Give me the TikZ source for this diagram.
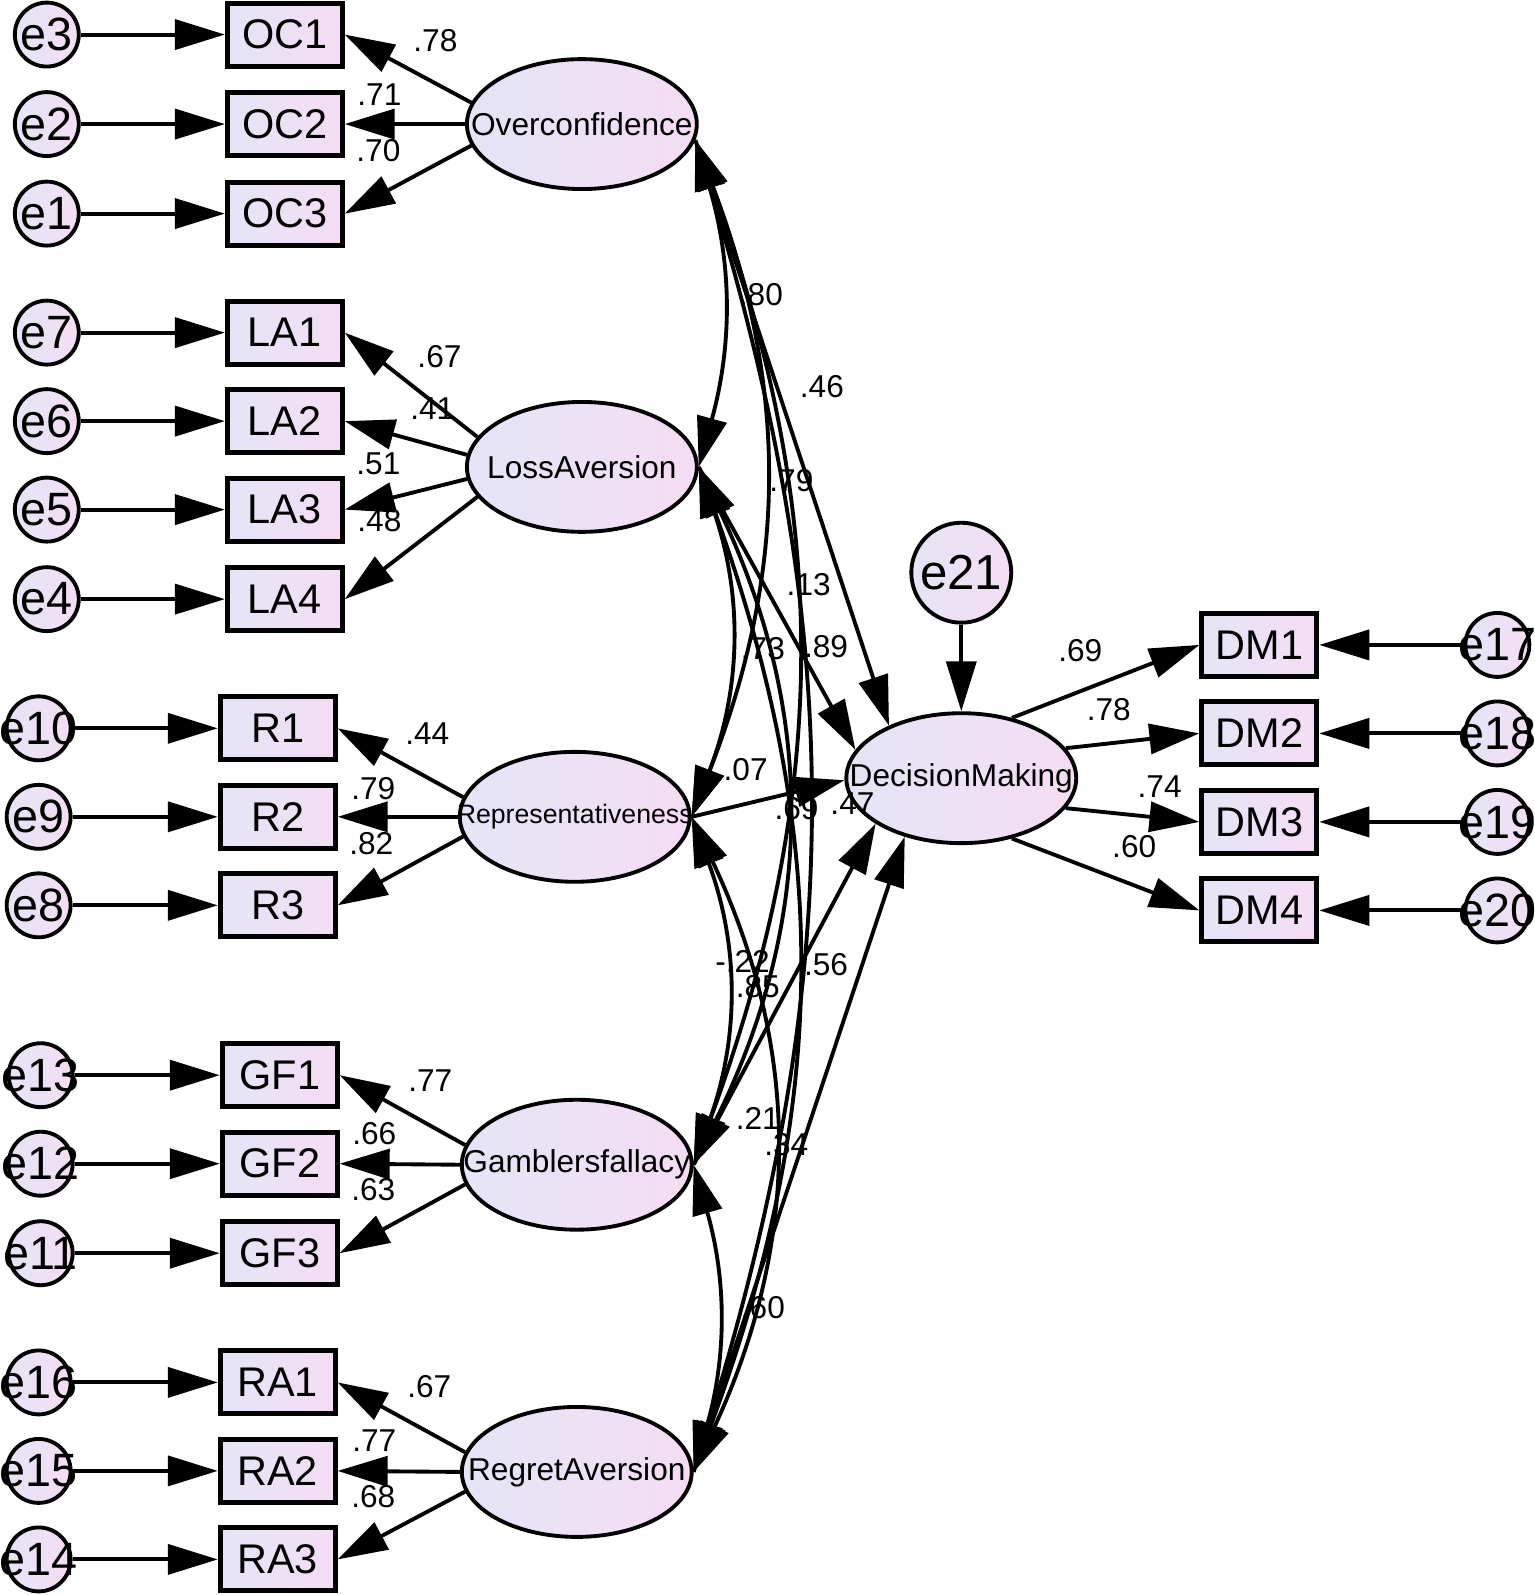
\documentclass[tikz,border=0pt]{standalone}
\usepackage{fontspec}
\setmainfont{Liberation Sans}
\usetikzlibrary{arrows.meta,shapes.geometric}
\definecolor{amosblue}{RGB}{228,229,246}
\definecolor{amospink}{RGB}{245,221,244}

\begin{document}
\begin{tikzpicture}[x=0.01017cm, y=-0.01017cm,
    >={Triangle[length=5mm,width=3mm]},
    obs/.style={draw, line width=1.4pt, rectangle, minimum width=1.15cm, minimum height=0.63cm,
      inner sep=0pt, left color=amosblue, right color=amospink, font=\fontsize{11.8}{12}\selectfont},
    err/.style={draw, line width=1.1pt, circle, minimum size=0.64cm, inner sep=-5pt,
      left color=amosblue, right color=amospink, font=\fontsize{13.3}{14}\selectfont},
    lat/.style={draw, line width=1.1pt, ellipse, minimum width=2.3cm, minimum height=1.3cm,
      inner xsep=-40pt, inner ysep=-15pt, left color=amosblue, right color=amospink,
      font=\fontsize{9}{10}\selectfont},
    reg/.style={->, line width=1.1pt},
    cov/.style={<->, line width=1.1pt},
    wt/.style={font=\fontsize{9}{10}\selectfont, inner sep=0pt}]
  \useasboundingbox (0,0) rectangle (1509,1568);

  % latent variables
  \node[lat] (oc) at (572,122) {Overconfidence};
  \node[lat] (la) at (572,459) {LossAversion};
  \node[lat, font=\fontsize{7.6}{8}\selectfont] (rep) at (565,803) {Representativeness};
  \node[lat] (gf) at (567,1145) {Gamblersfallacy};
  \node[lat] (ra) at (567,1447) {RegretAversion};
  \node[lat] (dm) at (945,765) {DecisionMaking};
  \node[err, minimum size=1cm, font=\fontsize{14}{15}\selectfont] (e21) at (945,563) {e21};

  % indicators and their errors
  \foreach \i/\y/\k/\a in {1/34/3/169, 2/122/2/180, 3/210/1/191} {
    \node[obs] (oc\i) at (280,\y) {OC\i};
    \node[err] (e\k) at (46,\y) {e\k};
    \draw[reg] (e\k) -- (oc\i);
    \draw[reg] (oc.\a) -- (oc\i.east);
  }
  \foreach \i/\y/\k/\a in {1/327/7/164, 2/414/6/174, 3/501/5/186, 4/589/4/196} {
    \node[obs] (la\i) at (280,\y) {LA\i};
    \node[err] (e\k) at (46,\y) {e\k};
    \draw[reg] (e\k) -- (la\i);
    \draw[reg] (la.\a) -- (la\i.east);
  }
  \foreach \i/\y/\k/\a in {1/716/10/170, 2/803/9/180, 3/890/8/190} {
    \node[obs] (r\i) at (273,\y) {R\i};
    \node[err] (e\k) at (38,\y) {e\k};
    \draw[reg] (e\k) -- (r\i);
    \draw[reg] (rep.\a) -- (r\i.east);
  }
  \foreach \i/\y/\k/\a in {1/1057/13/170, 2/1144/12/180, 3/1232/11/190} {
    \node[obs] (gf\i) at (275,\y) {GF\i};
    \node[err] (e\k) at (40,\y) {e\k};
    \draw[reg] (e\k) -- (gf\i);
    \draw[reg] (gf.\a) -- (gf\i.east);
  }
  \foreach \i/\y/\k/\a in {1/1359/16/170, 2/1446/15/180, 3/1533/14/190} {
    \node[obs] (ra\i) at (273,\y) {RA\i};
    \node[err] (e\k) at (38,\y) {e\k};
    \draw[reg] (e\k) -- (ra\i);
    \draw[reg] (ra.\a) -- (ra\i.east);
  }
  \foreach \i/\y/\k/\a in {1/634/17/50, 2/721/18/16, 3/808/19/-16, 4/895/20/-50} {
    \node[obs] (dm\i) at (1238,\y) {DM\i};
    \node[err] (e\k) at (1472,\y) {e\k};
    \draw[reg] (e\k) -- (dm\i.east);
    \draw[reg] (dm.\a) -- (dm\i.west);
  }

  % loadings
  \node[wt] (w1) at (428,40) {.78};
  \node[wt] (w2) at (373,93) {.71};
  \node[wt] (w3) at (372,148) {.70};
  \node[wt] (w4) at (432,351) {.67};
  \node[wt] (w5) at (425,402) {.41};
  \node[wt] (w6) at (372,456) {.51};
  \node[wt] (w7) at (373,512) {.48};
  \node[wt] (w8) at (420,721) {.44};
  \node[wt] (w9) at (367,775) {.79};
  \node[wt] (w10) at (365,829) {.82};
  \node[wt] (w11) at (423,1062) {.77};
  \node[wt] (w12) at (368,1114) {.66};
  \node[wt] (w13) at (367,1169) {.63};
  \node[wt] (w14) at (422,1363) {.67};
  \node[wt] (w15) at (368,1416) {.77};
  \node[wt] (w16) at (367,1471) {.68};
  \node[wt] (w17) at (1062,640) {.69};
  \node[wt] (w18) at (1090,698) {.78};
  \node[wt] (w19) at (1140,773) {.74};
  \node[wt] (w20) at (1115,832) {.60};

  % structural weights and correlations
  \node[wt] (s1) at (748,290) {.80};
  \node[wt] (s2) at (808,380) {.46};
  \node[wt] (s3) at (778,472) {.79};
  \node[wt] (s4) at (795,575) {.13};
  \node[wt] (s5) at (750,638) {.73};
  \node[wt] (s6) at (812,636) {.89};
  \node[wt] (s7) at (733,757) {.07};
  \node[wt] (s8) at (783,795) {.69};
  \node[wt] (s9) at (838,790) {.47};
  \node[wt] (s10) at (730,945) {-.22};
  \node[wt] (s11) at (745,970) {.85};
  \node[wt] (s12) at (812,948) {.56};
  \node[wt] (s13) at (745,1100) {.21};
  \node[wt] (s14) at (773,1125) {.34};
  \node[wt] (s15) at (750,1285) {.60};

  % covariances
  \draw[cov] (oc.-8) to[bend left=16] (la.east);
  \draw[cov] (oc.-8) to[bend left=21] (rep.east);
  \draw[cov] (oc.-8) to[bend left=20] (gf.east);
  \draw[cov] (oc.-8) to[bend left=17] (ra.east);
  \draw[cov] (la.east) to[bend left=20] (rep.east);
  \draw[cov] (la.east) to[bend left=26] (gf.east);
  \draw[cov] (la.east) to[bend left=20] (ra.east);
  \draw[cov] (rep.east) to[bend left=20] (gf.east);
  \draw[cov] (rep.east) to[bend left=25] (ra.east);
  \draw[cov] (gf.east) to[bend left=16] (ra.east);

  % paths to decision making
  \draw[reg] (oc.-8) -- (dm.144);
  \draw[reg] (la.east) -- (dm.165);
  \draw[reg] (rep.east) -- (dm.181);
  \draw[reg] (gf.east) -- (dm.208);
  \draw[reg] (ra.east) -- (dm.226);
  \draw[reg] (e21) -- (dm);
\end{tikzpicture}
\end{document}
